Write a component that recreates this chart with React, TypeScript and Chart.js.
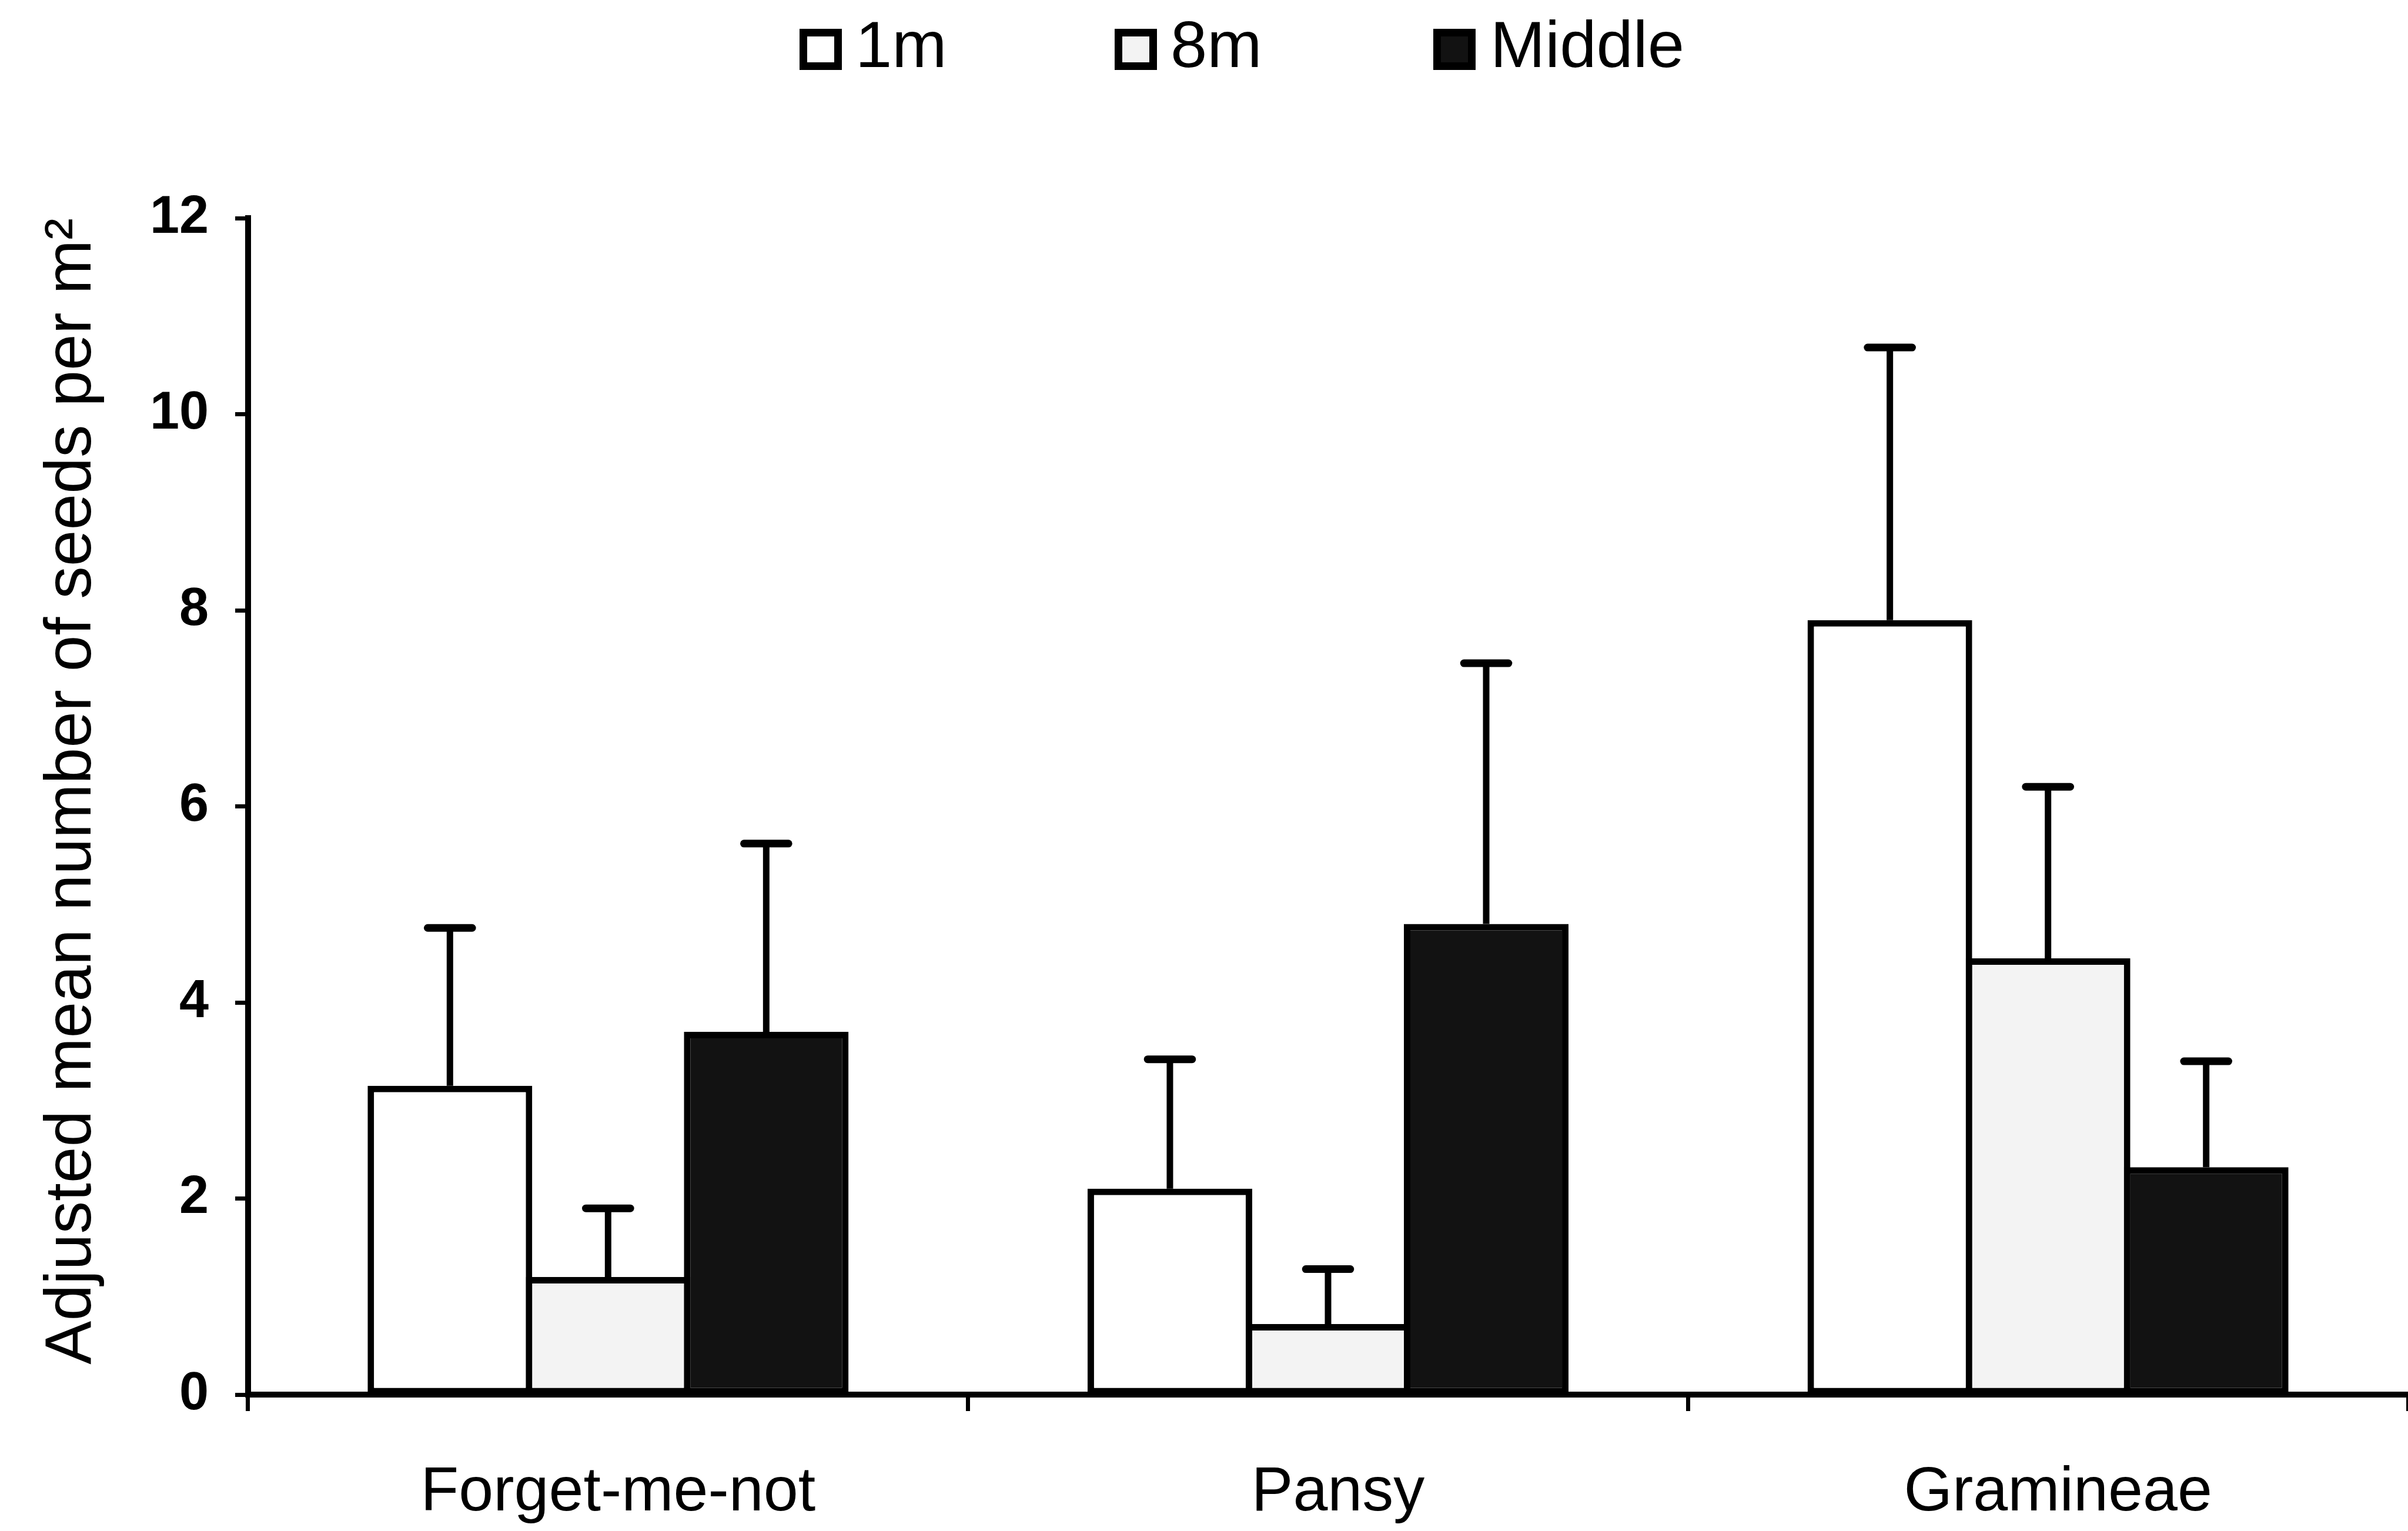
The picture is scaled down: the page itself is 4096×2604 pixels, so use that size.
import React, { useEffect, useRef } from "react";
import { Chart, registerables } from "chart.js";

Chart.register(...registerables);

// ---- Data ----
const categories = ["Forget-me-not", "Pansy", "Gramineae"];
const seriesNames = ["1m", "8m", "Middle"];
const values1m = [3.15, 2.1, 7.9];
const values8m = [1.2, 0.72, 4.45];
const valuesMiddle = [3.7, 4.8, 2.32];
const err1m = [1.61, 1.32, 2.78];
const err8m = [0.7, 0.56, 1.75];
const errMiddle = [1.92, 2.66, 1.08];
const yTicks = [0, 2, 4, 6, 8, 10, 12];
const yTitle = "Adjusted mean number of seeds per m\u00B2";

// ---- Styles ----
const FONT = "'Liberation Sans', Arial, Helvetica, sans-serif";
const fills = ["#ffffff", "#f3f3f3", "#121212"];
const W = 4096;
const H = 2604;
const PLOT_LEFT = 422;
const PLOT_TOP = 371;
const PLOT_BOTTOM = 2372;
const BAR_BORDER = 11;

const errorBarPlugin = {
  id: "errorBars",
  afterDatasetsDraw(chart: any) {
    const { ctx } = chart;
    const yScale = chart.scales.y;
    chart.data.datasets.forEach((ds: any, i: number) => {
      const meta = chart.getDatasetMeta(i);
      meta.data.forEach((bar: any, j: number) => {
        const v = ds.data[j];
        const e = ds.errors[j];
        const top = yScale.getPixelForValue(v + e);
        const base = bar.y;
        const x = bar.x;
        const capHalf = bar.width * 0.135;
        ctx.save();
        ctx.strokeStyle = "#000";
        ctx.lineWidth = 11;
        ctx.beginPath();
        ctx.moveTo(x, base);
        ctx.lineTo(x, top);
        ctx.stroke();
        ctx.lineWidth = 13;
        ctx.lineCap = "round";
        ctx.beginPath();
        ctx.moveTo(x - capHalf, top);
        ctx.lineTo(x + capHalf, top);
        ctx.stroke();
        ctx.restore();
      });
    });
  },
};

const legendPositions = [
  { box: 1360, text: 1455 },
  { box: 1896, text: 1991 },
  { box: 2438, text: 2535 },
];

const customLegendPlugin = {
  id: "customLegend",
  afterDraw(chart: any) {
    const { ctx } = chart;
    ctx.save();
    ctx.font = `112px ${FONT}`;
    ctx.textBaseline = "alphabetic";
    ctx.textAlign = "left";
    seriesNames.forEach((name, i) => {
      const p = legendPositions[i];
      const bx = p.box;
      const by = 49;
      const bw = 72;
      const bh = 70;
      ctx.fillStyle = fills[i];
      ctx.fillRect(bx, by, bw, bh);
      ctx.strokeStyle = "#000";
      ctx.lineWidth = 13;
      ctx.strokeRect(bx + 6.5, by + 6.5, bw - 13, bh - 13);
      ctx.fillStyle = "#000";
      ctx.fillText(name, p.text, 114);
    });
    ctx.restore();
  },
};

function BarChart() {
  const ref = useRef<HTMLCanvasElement | null>(null);
  useEffect(() => {
    if (!ref.current) return;
    const seriesValues = [values1m, values8m, valuesMiddle];
    const seriesErrors = [err1m, err8m, errMiddle];
    const chart = new Chart(ref.current, {
      type: "bar",
      data: {
        labels: categories,
        datasets: seriesNames.map((name, i) => ({
          label: name,
          data: seriesValues[i],
          errors: seriesErrors[i],
          backgroundColor: fills[i],
          borderColor: "#000",
          borderWidth: BAR_BORDER,
          borderSkipped: false,
          categoryPercentage: 0.659,
          barPercentage: 1.041,
        })) as any,
      },
      options: {
        animation: false,
        responsive: true,
        maintainAspectRatio: false,
        devicePixelRatio: 1,
        layout: { padding: { top: PLOT_TOP, right: 0, bottom: 0, left: 0 } },
        plugins: {
          legend: { display: false },
          tooltip: { enabled: false },
          title: { display: false },
        },
        scales: {
          x: {
            type: "category",
            offset: true,
            grid: {
              offset: true,
              drawOnChartArea: false,
              drawTicks: true,
              tickLength: 28,
              tickWidth: 7,
              color: "#000",
            },
            border: { display: true, color: "#000", width: 10 },
            ticks: {
              color: "#000",
              padding: 76,
              labelOffset: 17,
              font: { family: FONT, size: 106, weight: "normal" },
              maxRotation: 0,
              autoSkip: false,
            },
            afterFit: (scale: any) => {
              scale.height = H - PLOT_BOTTOM;
            },
          },
          y: {
            min: 0,
            max: 12,
            afterBuildTicks: (scale: any) => {
              scale.ticks = yTicks.map((v) => ({ value: v }));
            },
            grid: {
              drawOnChartArea: false,
              drawTicks: true,
              tickLength: 22,
              tickWidth: 7,
              color: "#000",
            },
            border: { display: true, color: "#000", width: 10 },
            ticks: {
              color: "#000",
              padding: 45,
              font: { family: FONT, size: 90, weight: "bold" },
            },
            title: {
              display: true,
              text: yTitle,
              color: "#000",
              align: "end",
              padding: { top: 57, bottom: 0 },
              font: { family: FONT, size: 111, weight: "normal", lineHeight: 1.2 },
            },
            afterFit: (scale: any) => {
              scale.width = PLOT_LEFT;
            },
          },
        },
      },
      plugins: [errorBarPlugin, customLegendPlugin],
    });
    return () => chart.destroy();
  }, []);
  return (
    <div
      style={{
        position: "fixed",
        left: 0,
        top: 0,
        width: W,
        height: H,
        background: "#fff",
      }}
    >
      <canvas ref={ref} />
    </div>
  );
}

export default function App() {
  return <BarChart />;
}
